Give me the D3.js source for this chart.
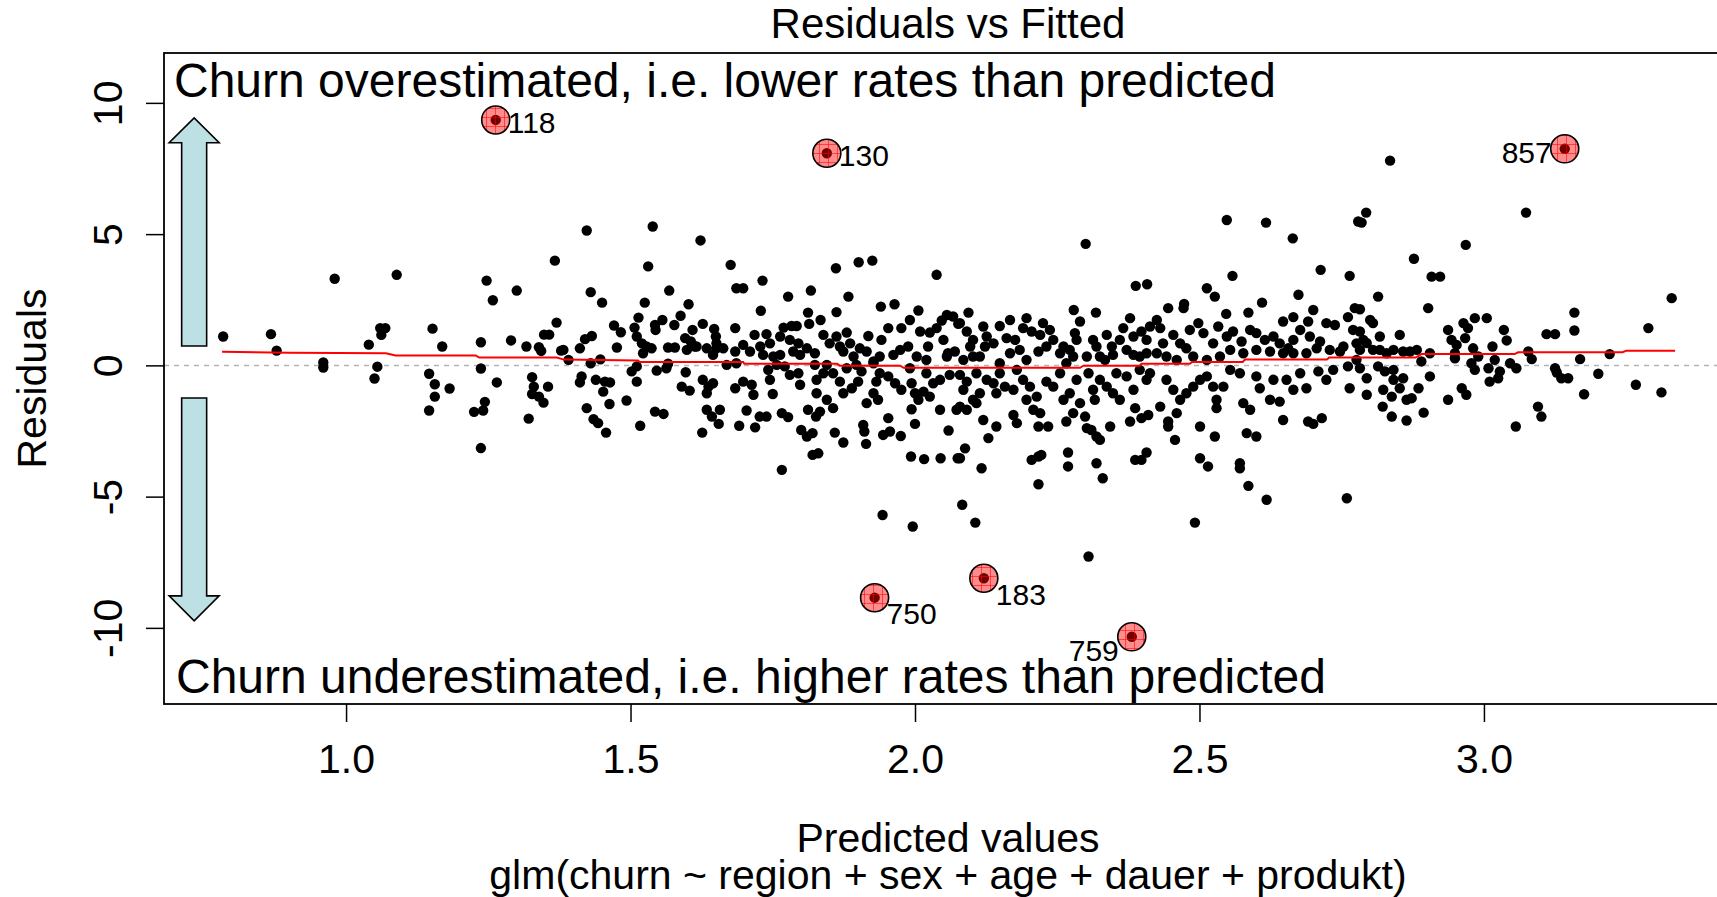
<!DOCTYPE html>
<html>
<head>
<meta charset="utf-8">
<script src="https://cdn.jsdelivr.net/npm/d3@7"></script>
<style>
  body { margin: 0; background: #fff; }
  svg { display: block; font-family: "Liberation Sans", Arial, sans-serif; }
</style>
</head>
<body>
<svg id="chart" width="1717" height="897"></svg>
<script>
// ---- Data (fitted value, residual) ----
const pointsLeft = [
  [0.784,1.10],[0.868,1.19],[0.878,0.56],[0.980,3.30],[0.960,0.11],[0.960,-0.08],[1.040,0.79],[1.055,-0.05],
  [1.050,-0.50],[1.060,1.42],[1.069,1.42],[1.062,1.16],[1.089,3.45],[1.152,1.40],[1.169,0.72],[1.146,-0.32],
  [1.156,-0.72],[1.156,-1.19],[1.182,-0.88],[1.146,-1.72],[1.237,0.88],[1.237,-0.12],[1.247,3.23],[1.258,2.48],
  [1.265,-0.65],[1.244,-1.39],[1.225,-1.77],[1.241,-1.72],[1.237,-3.15],[1.290,0.95],[1.300,2.85],[1.317,0.72],
  [1.339,0.69],[1.343,0.55],[1.348,1.17],[1.357,1.17],[1.370,1.63],[1.367,3.99],[1.378,0.56],[1.327,-0.45],
  [1.330,-0.81],[1.327,-1.09],[1.339,-1.19],[1.347,-1.42],[1.355,-0.81],[1.321,-2.03]
];

const pointsCenterLeft = [
  [1.423,5.14],[1.539,5.29],[1.623,4.76],[1.531,3.77],[1.676,3.83],[1.430,2.79],[1.450,2.39],[1.568,2.85],
  [1.686,2.94],[1.698,2.94],[1.732,3.23],[1.777,2.62],[1.817,2.85],[1.861,3.70],[1.901,3.93],[1.925,3.99],
  [2.038,3.45],[1.883,2.62],[1.940,2.24],[1.964,2.33],[1.862,2.03],[1.729,2.08],[1.812,2.01],[1.525,2.39],
  [1.602,2.33],[1.514,1.82],[1.588,1.89],[1.556,1.73],[1.543,1.54],[1.544,1.35],[1.577,1.54],[1.471,1.52],
  [1.483,1.26],[1.507,1.44],[1.511,1.10],[1.520,0.84],[1.627,1.58],[1.609,1.35],[1.596,1.04],[1.606,0.91],
  [1.613,0.72],[1.647,1.39],[1.650,1.10],[1.651,0.84],[1.684,1.42],[1.718,1.16],[1.739,1.19],[1.769,1.44],
  [1.783,1.50],[1.792,1.50],[1.814,1.58],[1.834,1.73],[1.839,1.16],[1.862,1.10],[1.880,1.25],[1.918,1.12],
  [1.941,0.97],[1.953,1.42],[1.976,1.42],[1.991,1.73],[2.006,2.09],[2.009,1.29],[2.026,1.25],[2.047,1.71],
  [2.056,1.92],[2.067,1.86],[2.038,1.42],[2.050,0.97],[2.058,0.46],[2.076,1.58],
  [1.420,1.00],[1.432,1.12],[1.411,0.65],[1.382,0.59],[1.391,0.21],[1.430,0.08],[1.447,0.23],[1.476,0.68],
  [1.528,0.72],[1.537,0.65],[1.522,0.46],[1.566,0.68],[1.578,0.68],[1.599,0.59],[1.616,0.72],[1.634,0.65],
  [1.651,0.65],[1.663,0.65],[1.645,0.40],[1.684,0.53],[1.698,0.78],[1.710,0.53],[1.728,0.72],[1.733,0.40],
  [1.751,0.34],[1.763,0.40],[1.745,0.84],[1.763,1.10],[1.780,0.97],[1.795,0.84],[1.810,0.65],[1.824,0.46],
  [1.786,0.53],[1.798,0.40],[1.850,0.84],[1.868,0.72],[1.874,0.53],[1.892,0.34],[1.903,0.65],[1.915,0.53],
  [1.886,0.84],[1.927,0.15],[1.938,0.34],[1.962,0.40],[1.974,0.59],[1.988,0.72],[2.003,0.34],[2.020,0.21],
  [2.023,0.72],[2.056,0.34],[2.070,0.53],
  [1.414,-0.42],[1.411,-0.65],[1.439,-0.55],[1.455,-0.62],[1.464,-0.65],[1.452,-1.00],[1.423,-1.63],[1.463,-1.47],
  [1.435,-2.05],[1.493,-1.34],[1.502,-0.23],[1.511,-0.04],[1.511,-0.62],[1.546,-0.20],[1.563,-0.11],[1.566,0.06],
  [1.543,-1.76],[1.558,-1.85],[1.597,-0.26],[1.590,-0.81],[1.604,-0.96],[1.627,-0.55],[1.637,-0.81],[1.645,-0.68],
  [1.634,-1.06],[1.634,-1.69],[1.643,-1.95],[1.657,-1.69],[1.669,0.02],[1.686,0.08],[1.684,-0.87],[1.698,-0.62],
  [1.713,-0.74],[1.716,-1.12],[1.704,-1.72],[1.727,-1.95],[1.739,-1.95],[1.745,-0.55],[1.742,-0.17],[1.757,0.02],
  [1.771,-0.04],[1.780,-0.36],[1.795,-0.30],[1.798,-0.74],[1.750,-1.09],[1.766,-1.82],[1.777,-1.97],[1.812,-1.69],
  [1.826,-1.95],[1.833,-1.76],[1.824,0.02],[1.845,0.02],[1.827,-0.55],[1.839,-0.30],[1.827,-1.06],[1.845,-1.31],
  [1.856,-1.63],[1.856,-0.30],[1.868,-0.62],[1.874,-1.06],[1.889,-0.87],[1.900,-0.62],[1.906,-0.23],[1.880,-0.11],
  [1.897,0.02],[1.927,0.08],[1.915,-1.44],[1.927,-1.06],[1.935,-1.31],[1.932,-0.62],[1.938,-0.30],[1.953,-0.42],
  [1.965,-0.68],[1.976,-0.93],[1.953,-2.01],[1.991,-0.11],[1.994,-0.68],[2.000,-1.06],[2.015,-1.00],[2.006,-1.31],
  [2.026,-1.19],[2.044,-1.69],[1.994,-1.67],[2.020,-0.30],[2.032,-0.68],[2.044,-0.55],[2.061,-0.36],[2.073,-1.69]
];

const pointsCenterRight = [
  [2.548,5.54],[2.617,5.44],[2.664,4.84],[2.779,5.48],[2.300,4.63],[2.713,3.64],[2.764,3.41],[2.558,3.41],
  [2.388,3.03],[2.408,3.09],[2.513,2.94],[2.527,2.62],[2.674,2.69],[2.094,2.01],[2.279,2.11],[2.318,2.01],
  [2.445,2.18],[2.472,2.18],[2.473,2.34],[2.547,1.96],[2.586,2.01],[2.610,2.39],[2.700,2.11],[2.773,2.18],
  [2.761,1.84],[2.665,1.84],[2.647,1.67],[2.691,1.67],
  [2.079,1.61],[2.091,1.29],[2.102,0.97],[2.097,0.72],[2.120,1.48],[2.126,1.10],[2.123,0.72],[2.138,0.84],
  [2.149,1.50],[2.167,1.73],[2.161,1.04],[2.176,0.97],[2.190,1.42],[2.196,1.80],[2.205,1.29],[2.220,1.16],
  [2.225,1.61],[2.237,1.35],[2.243,0.97],[2.261,0.72],[2.272,0.59],[2.284,0.97],[2.281,1.23],[2.290,1.67],
  [2.313,0.97],[2.319,0.72],[2.337,1.16],[2.346,0.72],[2.360,0.97],[2.366,1.42],[2.378,1.80],[2.384,1.10],
  [2.398,1.29],[2.407,0.97],[2.413,1.48],[2.425,1.73],[2.431,1.42],[2.436,0.84],[2.454,1.16],[2.466,0.84],
  [2.483,1.35],[2.498,1.61],[2.507,1.23],[2.524,0.84],[2.533,1.48],[2.548,1.10],[2.559,1.29],[2.574,0.91],
  [2.589,1.35],[2.600,1.23],[2.615,0.97],[2.630,1.10],[2.641,0.84],[2.656,0.65],[2.665,0.97],[2.677,1.35],
  [2.694,1.10],[2.712,0.91],[2.723,1.61],[2.738,1.54],[2.753,0.72],[2.770,1.35],[2.776,0.84],
  [2.085,0.21],[2.102,0.34],[2.114,0.34],[2.149,0.08],[2.167,0.46],[2.184,0.59],[2.196,0.21],[2.217,0.53],
  [2.231,0.72],[2.255,0.46],[2.266,0.08],[2.278,0.34],[2.302,0.34],[2.325,0.34],[2.334,0.21],[2.348,0.40],
  [2.372,0.59],[2.384,0.40],[2.395,0.34],[2.407,0.46],[2.425,0.46],[2.442,0.34],[2.460,0.21],[2.477,0.65],
  [2.489,0.34],[2.513,0.21],[2.536,0.34],[2.554,0.59],[2.577,0.46],[2.600,0.59],[2.624,0.53],[2.647,0.46],
  [2.665,0.46],[2.688,0.46],[2.706,0.65],[2.729,0.59],[2.747,0.53],[2.761,-0.04],[2.776,0.21],
  [2.079,-0.36],[2.091,-0.62],[2.108,-0.30],[2.085,-0.93],[2.102,-1.31],[2.114,-1.06],[2.079,-1.57],[2.091,-1.69],
  [2.108,-1.44],[2.126,-0.55],[2.138,-0.68],[2.143,-1.06],[2.149,-0.30],[2.158,-0.81],[2.173,-0.93],[2.179,-0.17],
  [2.190,-0.55],[2.202,-0.81],[2.196,-1.31],[2.214,-1.19],[2.208,-1.69],[2.220,-1.82],[2.231,-0.62],[2.243,-0.81],
  [2.255,-0.30],[2.261,-1.31],[2.272,-1.06],[2.284,-0.55],[2.290,-1.44],[2.278,-1.82],[2.299,-1.95],[2.305,-0.30],
  [2.313,-0.93],[2.316,-1.31],[2.325,-0.55],[2.337,-0.81],[2.348,-1.06],[2.360,-1.31],[2.354,-0.30],[2.372,-0.42],
  [2.384,-0.93],[2.395,-0.17],[2.407,-0.55],[2.413,-0.30],[2.431,-1.57],[2.442,-0.55],[2.454,-0.93],[2.466,-1.31],
  [2.460,-1.82],[2.477,-1.06],[2.489,-0.81],[2.501,-0.55],[2.513,-0.42],[2.524,-0.81],[2.542,-0.81],[2.530,-1.31],
  [2.530,-1.63],[2.554,-0.17],[2.571,-0.30],[2.577,-1.44],[2.589,-1.69],[2.600,-0.42],[2.606,-0.87],[2.624,-1.31],
  [2.641,-1.38],[2.630,-0.55],[2.653,-0.55],[2.665,-0.93],[2.677,-0.30],[2.688,-0.87],[2.709,-0.23],[2.723,-0.55],
  [2.735,-0.17],[2.764,-0.87],
  [2.120,-2.08],[2.143,-2.33],[2.173,-1.89],[2.179,-2.20],[2.217,-2.33],[2.234,-2.33],[2.266,-2.14],[2.302,-2.39],
  [2.310,-2.46],[2.325,-2.84],[2.319,-2.71],[2.343,-2.33],[2.378,-2.14],[2.387,-1.63],[2.398,-2.01],[2.410,-1.89],
  [2.445,-2.14],[2.445,-2.33],[2.501,-2.33],[2.527,-2.71],[2.583,-2.58],[2.600,-2.71],[2.647,-2.08],[2.691,-2.14],
  [2.700,-2.23],[2.715,-2.01],[2.457,-2.84],
  [2.129,-2.77],[2.088,-3.16],[2.079,-3.54],[2.117,-3.92],[2.205,-3.60],[2.217,-3.47],[2.222,-3.41],[2.269,-3.32],
  [2.269,-3.85],[2.319,-3.73],[2.330,-4.30],[2.217,-4.53],[2.387,-3.60],[2.398,-3.60],[2.407,-3.32],[2.501,-3.54],
  [2.515,-3.85],[2.571,-3.73],[2.571,-3.92],[2.586,-4.59],[2.618,-5.12],[2.759,-5.06]
];

const pointsRight = [
  [2.835,7.80],[2.793,5.82],[2.785,5.44],[3.074,5.82],[2.968,4.59],[2.877,4.06],[2.908,3.38],[2.923,3.38],
  [2.814,2.62],[2.902,2.18],[2.782,2.14],[2.800,1.73],[2.805,1.61],[2.782,1.29],[2.788,0.97],[2.794,0.85],
  [2.782,0.59],[2.805,0.59],[2.817,1.10],[2.817,0.59],[2.829,0.46],[2.841,0.59],[2.852,1.16],[2.858,0.53],
  [2.870,0.53],[2.882,0.59],[2.905,0.46],[2.890,0.15],[2.937,1.35],[2.943,0.97],[2.952,0.78],[2.949,0.46],
  [2.949,0.27],[2.964,1.61],[2.972,1.42],[2.967,1.04],[2.984,1.80],[3.005,1.80],[2.981,0.65],[2.990,0.34],
  [2.978,0.08],[3.015,0.72],[3.019,0.21],[3.035,1.35],[3.040,0.95],[3.046,0.08],[3.057,-0.11],[3.078,0.53],
  [3.084,0.24],[3.110,1.19],[3.125,1.19],[3.159,2.01],[3.159,1.33],[3.169,0.24],[3.221,0.43],[3.289,1.42],
  [3.330,2.56],
  [2.782,-0.11],[2.794,-0.49],[2.814,-0.04],[2.826,-0.23],[2.841,-0.17],[2.841,-0.55],[2.858,-0.49],[2.794,-1.12],
  [2.823,-0.93],[2.838,-1.19],[2.852,-0.87],[2.864,-1.31],[2.873,-1.25],[2.885,-0.87],[2.905,-0.42],[2.937,-1.31],
  [2.961,-0.87],[2.969,-1.12],[2.984,-0.17],[3.008,-0.11],[3.028,-0.23],[3.010,-0.62],[3.025,-0.49],[3.125,-0.11],
  [3.128,-0.27],[3.136,-0.49],[3.148,-0.49],[3.201,-0.32],[3.267,-0.74],[3.312,-1.03],[3.176,-1.10],[3.095,-1.57],
  [3.101,-1.95],[3.056,-2.33],[2.894,-1.80],[2.864,-2.10],[2.838,-1.95],[2.822,-1.57]
];

const pointsLow = [
  [1.443,-2.20],[1.457,-2.56],[1.517,-2.30],[1.626,-2.56],[1.655,-2.23],[1.691,-2.30],[1.719,-2.36],[1.766,-3.98],
  [1.800,-2.46],[1.820,-2.58],[1.810,-2.71],[1.820,-3.41],[1.830,-3.35],[1.859,-2.56],[1.874,-2.94],[1.911,-2.52],
  [1.914,-2.99],[1.944,-2.65],[1.975,-2.69],[1.943,-5.70],[1.993,-3.47],[2.016,-3.57],[2.045,-3.54],[2.075,-3.54],
  [1.996,-6.14],[2.059,-2.48],[2.083,-5.31],[2.106,-5.99],[2.305,-7.28],[2.492,-5.99],[1.909,-2.27],[1.956,-2.52],
  [2.000,-2.23]
];

// labelled outliers: id, fitted, residual, label side
const outlierIds = ["118", "130", "857", "750", "183", "759"];
const outlierFitted = [1.263, 1.845, 3.142, 1.929, 2.121, 2.381];
const outlierResid = [9.35, 8.08, 8.25, -8.85, -8.11, -10.34];
const outlierSide = ["right", "right", "left", "right", "right", "left"];
const outlierDrop = [13, 13, 14, 26, 27, 24]; // label baseline below point, px

// smoother (red line)
const smoothX = [0.782, 0.90, 1.07, 1.087, 1.228, 1.234, 1.37, 1.383, 1.513, 1.516, 1.698, 1.70, 1.863, 1.868,
  1.974, 1.98, 2.29, 2.296, 2.395, 2.398, 2.483, 2.487, 2.576, 2.58, 2.724, 2.728, 2.88, 2.89, 3.054, 3.06, 3.244, 3.25, 3.336];
const smoothY = [0.52, 0.48, 0.46, 0.38, 0.38, 0.30, 0.30, 0.22, 0.19, 0.13, 0.13, 0.06, 0.06, -0.01,
  -0.01, -0.09, -0.09, -0.01, -0.01, 0.06, 0.06, 0.13, 0.13, 0.22, 0.22, 0.30, 0.30, 0.43, 0.43, 0.50, 0.50, 0.56, 0.56];

const xTicks = [1.0, 1.5, 2.0, 2.5, 3.0];
const yTicks = [-10, -5, 0, 5, 10];

// ---- Layout ----
const svg = d3.select("#chart");
const plotLeft = 164, plotRight = 1732, plotTop = 53, plotBottom = 704;
const x = d3.scaleLinear().domain([0.68, 3.436]).range([plotLeft, plotRight]);
const y = d3.scaleLinear().domain([-12.9, 11.9]).range([plotBottom, plotTop]);
const midX = (plotLeft + plotRight) / 2;

const defs = svg.append("defs");
defs.append("clipPath").attr("id", "plotClip")
  .append("rect").attr("x", plotLeft).attr("y", plotTop)
  .attr("width", plotRight - plotLeft).attr("height", plotBottom - plotTop);

// hatch pattern for the highlighted points
const pat = defs.append("pattern").attr("id", "hatch")
  .attr("patternUnits", "userSpaceOnUse").attr("width", 9).attr("height", 9);
pat.append("rect").attr("width", 9).attr("height", 9).attr("fill", "rgba(255,0,0,0.45)");
pat.append("path").attr("d", "M0,0.5H9M0.5,0V9").attr("stroke", "rgba(255,0,0,0.55)").attr("stroke-width", 1);

const plot = svg.append("g").attr("clip-path", "url(#plotClip)");

// zero reference line
plot.append("line")
  .attr("x1", plotLeft).attr("x2", plotRight).attr("y1", y(0)).attr("y2", y(0))
  .attr("stroke", "#b4b4b4").attr("stroke-width", 1.5).attr("stroke-dasharray", "5,5");

// arrows
function arrowPath(cx, yStart, yHead, yTip) {
  const s = 12.5, h = 25;
  const px = x(cx);
  return `M${px - s},${y(yStart)}L${px - s},${y(yHead)}L${px - h},${y(yHead)}L${px},${y(yTip)}` +
         `L${px + h},${y(yHead)}L${px + s},${y(yHead)}L${px + s},${y(yStart)}Z`;
}
plot.append("path").attr("d", arrowPath(0.733, 0.74, 8.48, 9.43))
  .attr("fill", "#bce0e3").attr("stroke", "#000").attr("stroke-width", 1.6);
plot.append("path").attr("d", arrowPath(0.733, -1.24, -8.78, -9.73))
  .attr("fill", "#bce0e3").attr("stroke", "#000").attr("stroke-width", 1.6);

// points
const allPoints = pointsLeft.concat(pointsCenterLeft, pointsCenterRight, pointsRight, pointsLow);
const outliers = outlierIds.map((id, i) => ({
  id, fx: outlierFitted[i], r: outlierResid[i], side: outlierSide[i], drop: outlierDrop[i]
}));

plot.append("g").selectAll("circle")
  .data(allPoints.concat(outliers.map(d => [d.fx, d.r])))
  .join("circle")
  .attr("cx", d => x(d[0])).attr("cy", d => y(d[1]))
  .attr("r", 5.2).attr("fill", "#000");

// smoother
const line = d3.line().x((d, i) => x(smoothX[i])).y((d, i) => y(smoothY[i]));
plot.append("path").datum(smoothX).attr("d", line)
  .attr("fill", "none").attr("stroke", "red").attr("stroke-width", 2);

// highlighted outliers
plot.append("g").selectAll("circle")
  .data(outliers).join("circle")
  .attr("cx", d => x(d.fx)).attr("cy", d => y(d.r)).attr("r", 14)
  .attr("fill", "url(#hatch)").attr("stroke", "#000").attr("stroke-width", 1.6);

plot.append("g").selectAll("text")
  .data(outliers).join("text")
  .attr("x", d => x(d.fx) + (d.side === "right" ? 12 : -13))
  .attr("y", d => y(d.r) + d.drop)
  .attr("text-anchor", d => d.side === "right" ? "start" : "end")
  .attr("font-size", 30)
  .text(d => d.id);

// annotations
svg.append("text").attr("x", 174).attr("y", 97).attr("font-size", 48)
  .text("Churn overestimated, i.e. lower rates than predicted");
svg.append("text").attr("x", 176).attr("y", 693).attr("font-size", 48)
  .text("Churn underestimated, i.e. higher rates than predicted");

// box
svg.append("rect").attr("x", plotLeft).attr("y", plotTop)
  .attr("width", plotRight - plotLeft).attr("height", plotBottom - plotTop)
  .attr("fill", "none").attr("stroke", "#000").attr("stroke-width", 1.8);

// axes
const xAxis = svg.append("g").attr("transform", `translate(0,${plotBottom})`)
  .call(d3.axisBottom(x).tickValues(xTicks).tickFormat(d3.format(".1f")).tickSize(18).tickPadding(22));
xAxis.select(".domain").remove();
xAxis.selectAll("line").attr("stroke", "#000").attr("stroke-width", 1.5);
xAxis.selectAll("text").attr("font-size", 41).attr("fill", "#000")
  .attr("font-family", "Liberation Sans, Arial, sans-serif");

const yAxis = svg.append("g").attr("transform", `translate(${plotLeft},0)`)
  .call(d3.axisLeft(y).tickValues(yTicks).tickFormat(d => String(d)).tickSize(18));
yAxis.select(".domain").remove();
yAxis.selectAll("line").attr("stroke", "#000").attr("stroke-width", 1.5);
yAxis.selectAll("text")
  .attr("transform", "rotate(-90)")
  .attr("x", 0).attr("y", -42).attr("dy", null)
  .attr("text-anchor", "middle")
  .attr("font-size", 41).attr("fill", "#000")
  .attr("font-family", "Liberation Sans, Arial, sans-serif");

// titles
svg.append("text").attr("x", midX).attr("y", 38).attr("text-anchor", "middle").attr("font-size", 42)
  .text("Residuals vs Fitted");
svg.append("text").attr("x", midX).attr("y", 852).attr("text-anchor", "middle").attr("font-size", 41)
  .text("Predicted values");
svg.append("text").attr("x", midX).attr("y", 889).attr("text-anchor", "middle").attr("font-size", 41)
  .text("glm(churn ~ region + sex + age + dauer + produkt)");
svg.append("text").attr("transform", `translate(46,${(plotTop + plotBottom) / 2}) rotate(-90)`)
  .attr("text-anchor", "middle").attr("font-size", 41)
  .text("Residuals");
</script>
</body>
</html>
